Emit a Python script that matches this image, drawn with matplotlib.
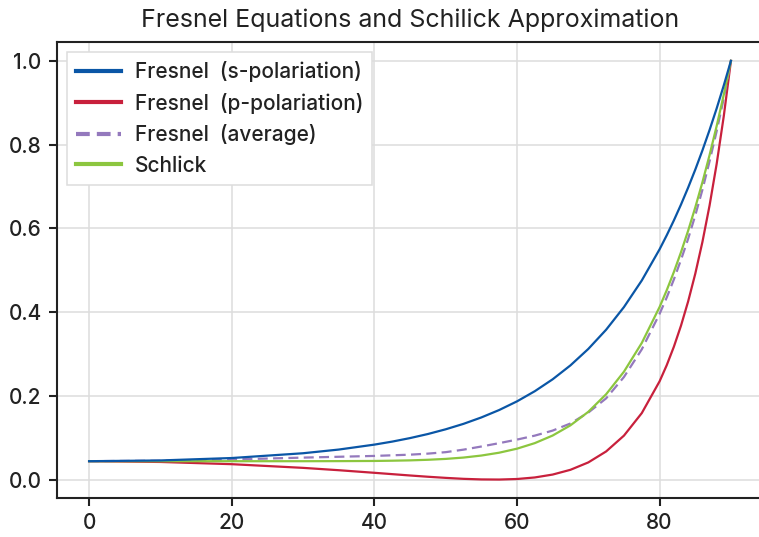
import matplotlib
matplotlib.use("Agg")
import matplotlib.pyplot as plt

plt.rcParams['font.family'] = ['Inter', 'DejaVu Sans']
plt.rcParams['font.weight'] = 'medium'

# Incidence angle in degrees
angle = [0, 10, 20, 30, 35, 40, 42.5, 45, 47.5, 50, 52.5, 55, 57.5, 60,
         62.5, 65, 67.5, 70, 72.5, 75, 77.5, 80, 81, 82, 83, 84, 85, 86,
         87, 88, 89, 90]

# Reflectance curves (glass, n ~ 1.53)
fresnel_s = [0.0439, 0.0457, 0.0515, 0.0629, 0.0717, 0.0835, 0.0907, 0.0991,
             0.1088, 0.1201, 0.1331, 0.1484, 0.1661, 0.1868, 0.2111, 0.2395,
             0.2728, 0.3120, 0.3579, 0.4120, 0.4755, 0.5501, 0.5835, 0.6190,
             0.6569, 0.6973, 0.7402, 0.7860, 0.8347, 0.8864, 0.9415, 1.0]
fresnel_p = [0.0439, 0.0421, 0.0368, 0.0280, 0.0224, 0.0162, 0.0130, 0.0098,
             0.0068, 0.0041, 0.0018, 0.0004, 0.0001, 0.0014, 0.0051, 0.0120,
             0.0234, 0.0410, 0.0672, 0.1050, 0.1588, 0.2348, 0.2733, 0.3173,
             0.3677, 0.4255, 0.4916, 0.5673, 0.6542, 0.7539, 0.8683, 1.0]
fresnel_avg = [0.0440, 0.0450, 0.0480, 0.0525, 0.0545, 0.0565, 0.0580, 0.0595,
               0.0620, 0.0655, 0.0715, 0.0790, 0.0870, 0.0955, 0.1050, 0.1170,
               0.1340, 0.1600, 0.1940, 0.2450, 0.3110, 0.3960, 0.4350, 0.4780,
               0.5250, 0.5750, 0.6310, 0.6920, 0.7600, 0.8320, 0.9110, 1.0]
schlick = [0.0439, 0.0439, 0.0439, 0.0439, 0.0441, 0.0445, 0.0451, 0.0459,
           0.0473, 0.0494, 0.0526, 0.0574, 0.0642, 0.0738, 0.0871, 0.1052,
           0.1296, 0.1618, 0.2038, 0.2577, 0.3263, 0.4123, 0.4523, 0.4958,
           0.5431, 0.5944, 0.6500, 0.7099, 0.7747, 0.8444, 0.9194, 1.0]

labels = ["Fresnel  (s-polariation)", "Fresnel  (p-polariation)",
          "Fresnel  (average)", "Schlick"]
colors = ["#0a56a6", "#c8203c", "#9479bd", "#8cc63f"]

fig = plt.figure(figsize=(7.59, 5.37), dpi=100)
ax = fig.add_axes([0.0751, 0.0726, 0.9302, 0.8492])

lw = 1.6
ax.plot(angle, fresnel_s, color=colors[0], lw=lw, label=labels[0], zorder=5)
ax.plot(angle, fresnel_p, color=colors[1], lw=lw, label=labels[1], zorder=3)
ax.plot(angle, fresnel_avg, color=colors[2], lw=lw, ls=(0, (4.5, 2.4)),
        label=labels[2], zorder=3)
ax.plot(angle, schlick, color=colors[3], lw=lw, label=labels[3], zorder=4)

ax.set_xlim(-4.5, 94.5)
ax.set_ylim(-0.044, 1.045)
ax.set_xticks([0, 20, 40, 60, 80])
ax.set_yticks([0.0, 0.2, 0.4, 0.6, 0.8, 1.0])
ax.set_yticklabels(["0.0", "0.2", "0.4", "0.6", "0.8", "1.0"])

ax.grid(True, color="#dddddd", lw=1.1, zorder=0)
ax.set_axisbelow(True)
for side in ["left", "bottom", "top"]:
    ax.spines[side].set_color("#222222")
    ax.spines[side].set_linewidth(1.5)
ax.spines["right"].set_visible(False)

ax.tick_params(axis="both", colors="#222222", labelsize=15, width=1.5,
               length=5.5, direction="out")
ax.tick_params(axis="x", pad=5)
ax.tick_params(axis="y", pad=5.5)

ax.set_title("Fresnel Equations and Schilick Approximation", fontsize=18,
             color="#222222", pad=10.5)

leg = ax.legend(loc="upper left", fontsize=15, frameon=True, fancybox=False,
                handlelength=2.15, handletextpad=0.65, labelspacing=0.5,
                borderpad=0.45, borderaxespad=0.48, framealpha=1.0)
leg.get_frame().set_edgecolor("#dddddd")
leg.get_frame().set_linewidth(1.1)
for text in leg.get_texts():
    text.set_color("#222222")
handles = leg.get_lines()
for h in handles:
    h.set_linewidth(3)
handles[2].set_linestyle((0, (3.3, 1.7)))

fig.savefig("out.png", dpi=100)
